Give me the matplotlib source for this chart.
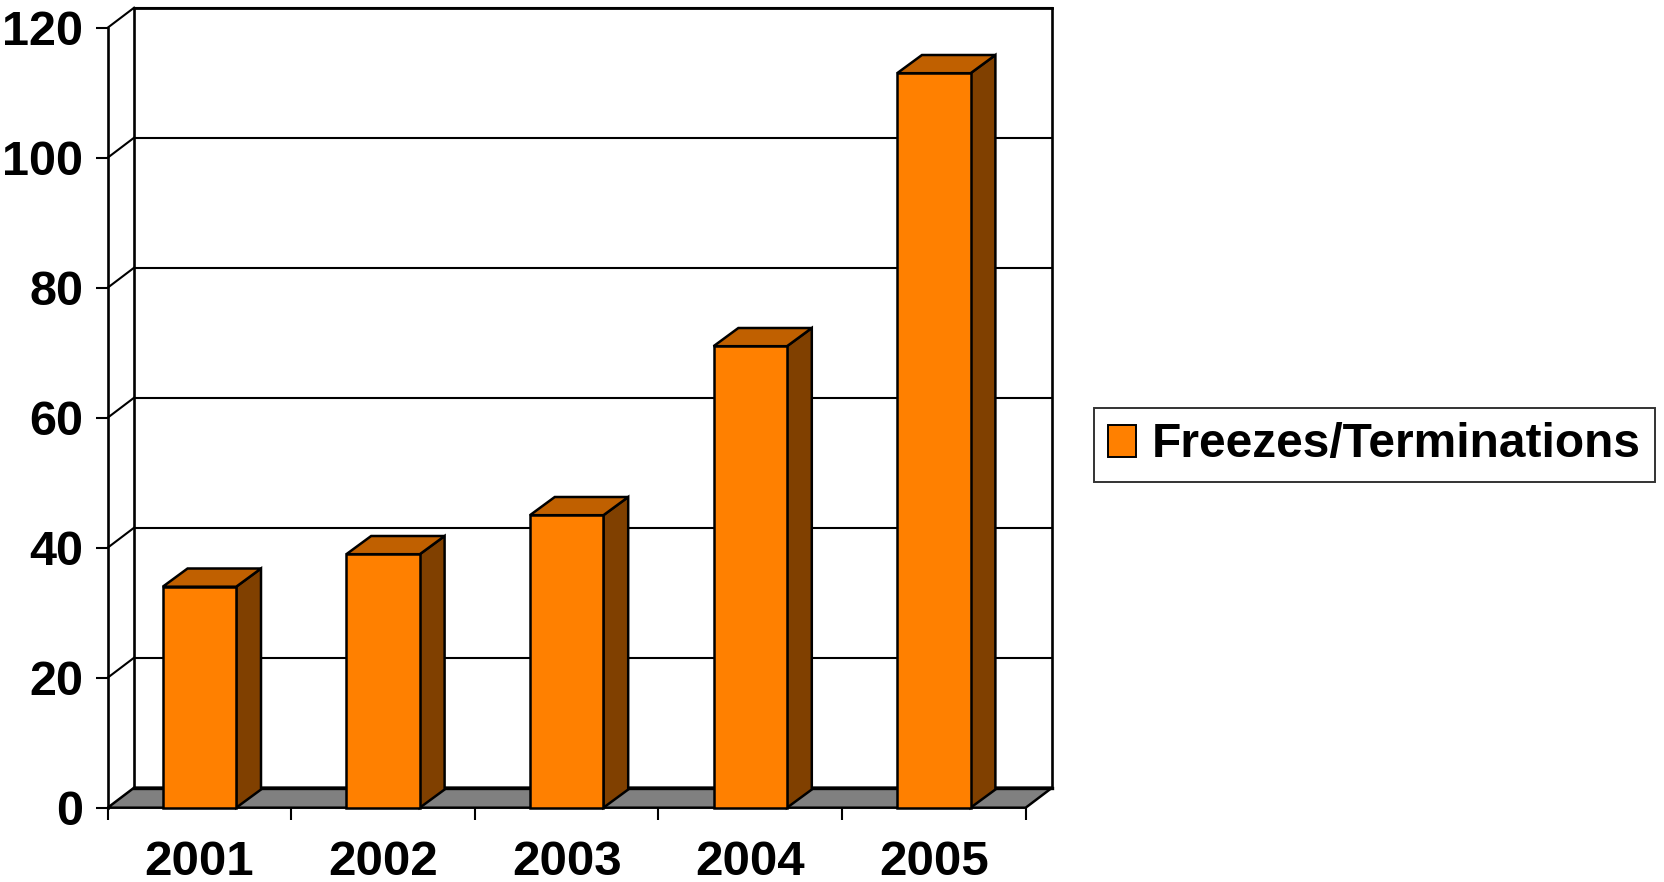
import matplotlib.pyplot as plt
from matplotlib.patches import Polygon, Rectangle, Patch

plt.rcParams['font.family'] = ['Liberation Sans', 'DejaVu Sans']
plt.rcParams['font.weight'] = 'bold'

years = ['2001', '2002', '2003', '2004', '2005']
counts = [34, 39, 45, 71, 113]
series_name = 'Freezes/Terminations'
yticks = [0, 20, 40, 60, 80, 100, 120]

front_col = '#FF8000'
top_col = '#C06000'
side_col = '#804000'
floor_col = '#808080'

# depth of the walls / floor and of the bars, in data units
DX, DY = 0.144, 3.08
BDX, BDY = 0.135, 2.8
BAR_W = 0.4

fig = plt.figure(figsize=(16.64, 8.82), dpi=100)
ax = fig.add_axes([0.06472, 0.08424, 0.55168, 0.88435])
ax.set_xlim(0, len(years))
ax.set_ylim(0, 120)
for s in ax.spines.values():
    s.set_visible(False)
ax.patch.set_visible(False)

n = len(years)
top = yticks[-1]

# back wall: gridlines, top edge, vertical edges
for t in yticks[1:]:
    ax.plot([DX, n + DX], [t + DY, t + DY], color='black', lw=1.5, clip_on=False, zorder=1)
ax.plot([DX, DX], [DY, top + DY], color='black', lw=1.9, clip_on=False, zorder=1)
ax.plot([n + DX, n + DX], [DY, top + DY], color='black', lw=1.9, clip_on=False, zorder=1)
ax.plot([DX, n + DX], [top + DY, top + DY], color='black', lw=2.0, clip_on=False, zorder=1)

# side wall diagonals
for t in yticks[1:]:
    ax.plot([0, DX], [t, t + DY], color='black', lw=1.5, clip_on=False, zorder=1)
ax.plot([0, 0], [0, top], color='black', lw=1.9, clip_on=False, zorder=4)

# floor
floor = Polygon([(0, 0), (n, 0), (n + DX, DY), (DX, DY)], closed=True,
                facecolor=floor_col, edgecolor='black', lw=1.8, clip_on=False, zorder=2)
ax.add_patch(floor)
ax.plot([DX, n + DX], [DY, DY], color='black', lw=2.4, clip_on=False, zorder=2)

# 3d bars
for i, v in enumerate(counts):
    x0 = i + (1 - BAR_W) / 2
    x1 = x0 + BAR_W
    side = Polygon([(x1, 0), (x1 + BDX, BDY), (x1 + BDX, v + BDY), (x1, v)],
                   closed=True, facecolor=side_col, edgecolor='black', lw=1.8,
                   clip_on=False, zorder=3, joinstyle='miter')
    cap = Polygon([(x0, v), (x1, v), (x1 + BDX, v + BDY), (x0 + BDX, v + BDY)],
                  closed=True, facecolor=top_col, edgecolor='black', lw=1.8,
                  clip_on=False, zorder=3, joinstyle='miter')
    face = Rectangle((x0, 0), BAR_W, v, facecolor=front_col, edgecolor='black',
                     lw=1.8, clip_on=False, zorder=3, joinstyle='miter')
    ax.add_patch(side)
    ax.add_patch(cap)
    ax.add_patch(face)

# ticks
ax.set_yticks(yticks)
ax.set_yticklabels([str(t) for t in yticks])
ax.tick_params(axis='y', direction='out', length=8.6, width=1.5, pad=9, labelsize=35)
ax.set_xticks(range(n + 1))
ax.set_xticklabels([''] * (n + 1))
ax.set_xticks([i + 0.5 for i in range(n)], minor=True)
ax.set_xticklabels(years, minor=True)
ax.tick_params(axis='x', which='major', direction='out', length=8.6, width=1.5)
ax.tick_params(axis='x', which='minor', length=0, pad=23, labelsize=35.5)

handle = Patch(facecolor=front_col, edgecolor='black', lw=1.4)
leg = fig.legend([handle], [series_name], loc='center left',
                 bbox_to_anchor=(1094 / 1664, 0.4955), fontsize=34.5,
                 frameon=True, fancybox=False, edgecolor='black',
                 borderaxespad=0, borderpad=0.3, handlelength=0.58,
                 handleheight=0.65, handletextpad=0.33)
leg.get_frame().set_linewidth(1.4)

fig.savefig('out.png', dpi=100)
